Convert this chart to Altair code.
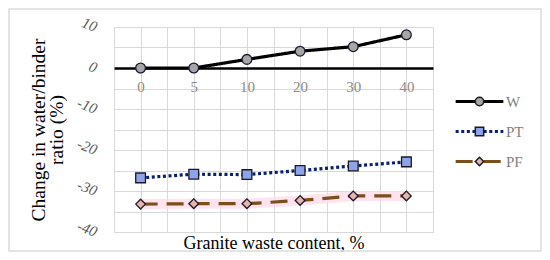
import json
import altair as alt
import pandas as pd

categories = ["0", "5", "10", "20", "30", "40"]
w_vals = [0, 0, 2.1, 4.1, 5.2, 8.1]
pt_vals = [-26.8, -25.9, -26.0, -25.0, -23.9, -22.9]
pf_vals = [-33.2, -33.1, -33.1, -32.3, -31.2, -31.2]
series_names = ["W", "PT", "PF"]
marker_keys = ["W ", "PT ", "PF "]

line_colors = ["#000000", "#0a1f6b", "#7B4F1C"]
line_dashes = [[1, 0], [3, 2.6], [17, 9]]
marker_shapes = ["circle", "square", "diamond"]
marker_fills = ["#a6a6a6", "#8ea4e6", "#e8b4a8"]

rows = []
for name, key, vals in zip(series_names, marker_keys, [w_vals, pt_vals, pf_vals]):
    for i, (c, v) in enumerate(zip(categories, vals)):
        rows.append({"series": name, "s": key, "idx": i, "cat": c, "value": v})
df = pd.DataFrame(rows)

FONT = "Liberation Serif"
GRID = "#d9d9d9"

xscale = alt.Scale(domain=[-0.5, 5.5], nice=False, zero=False)
yscale = alt.Scale(domain=[-40, 10], nice=False, zero=False)

y_axis = alt.Axis(
    values=list(range(-40, 11, 5)),
    labelExpr="datum.value % 10 == 0 ? datum.value : ''",
    grid=True, gridColor=GRID, domain=False, ticks=False,
    labelAngle=22, labelFontStyle="italic", labelFont=FONT, labelFontSize=15,
    labelColor="#595959", labelPadding=18,
    title=["Change in water/binder", "ratio (%)"], titleFont=FONT,
    titleFontSize=19.5, titleFontWeight="normal", titleColor="#000000",
    titlePadding=8, titleLineHeight=18,
)

grid_vals = [i / 2 for i in range(-1, 12)]
x_grid_axis = alt.Axis(
    orient="bottom", values=grid_vals, grid=True, gridColor=GRID,
    labels=False, ticks=False, domain=False,
    title="Granite waste content, %", titleFont=FONT, titleFontSize=18,
    titleFontWeight="normal", titleColor="#000000", titlePadding=2,
)

label_expr = "datum.value % 1 == 0 ? " + json.dumps(categories) + "[datum.value] : ''"
x_label_axis = alt.Axis(
    orient="bottom", offset=-164, values=list(range(len(categories))),
    grid=False, ticks=False, domain=True, domainColor="#000000", domainWidth=2.5,
    labelExpr=label_expr, labelFont=FONT, labelFontSize=15, labelColor="#8a8a8a",
    labelPadding=11, title=None,
)

leg_common = dict(title=None, orient="none", legendX=358, legendY=67,
                  symbolSize=70, labelFont=FONT, labelFontSize=15,
                  rowPadding=14, padding=0, labelOffset=19)

legend_lines = alt.Legend(symbolType="M-5.7,0H-1M1,0H5.7", symbolStrokeWidth=3,
                          labelColor="#7f7f7f", **leg_common)
legend_marks = alt.Legend(labelOpacity=0, **leg_common)

base = alt.Chart(df)

glow = base.transform_filter("datum.series == 'PF'").mark_line(
    color="#ffd9ea", strokeWidth=10, opacity=0.75
).encode(
    x=alt.X("idx:Q", scale=xscale, axis=x_grid_axis),
    y=alt.Y("value:Q", scale=yscale, axis=y_axis),
)

lines = base.mark_line(strokeWidth=3.2).encode(
    x=alt.X("idx:Q", scale=xscale, axis=x_label_axis),
    y=alt.Y("value:Q", scale=yscale, axis=y_axis),
    stroke=alt.Stroke("series:N", scale=alt.Scale(domain=series_names, range=line_colors), legend=legend_lines),
    strokeDash=alt.StrokeDash("series:N", scale=alt.Scale(domain=series_names, range=line_dashes), legend=legend_lines),
    detail="series:N",
)

points = base.mark_point(filled=True, stroke="#1a1a2e", strokeWidth=1.3, opacity=1, size=95).encode(
    x=alt.X("idx:Q", scale=xscale, axis=None),
    y=alt.Y("value:Q", scale=yscale, axis=y_axis),
    shape=alt.Shape("s:N", scale=alt.Scale(domain=marker_keys, range=marker_shapes), legend=legend_marks),
    fill=alt.Fill("s:N", scale=alt.Scale(domain=marker_keys, range=marker_fills), legend=legend_marks),
)

frame = alt.Chart(pd.DataFrame({"a": [0]})).mark_rect(
    fill="transparent", stroke="#dcdcdc", strokeWidth=1.5
).encode(
    x=alt.value(-105), x2=alt.value(427), y=alt.value(-18), y2=alt.value(224)
)

chart = alt.layer(frame, glow, lines, points).resolve_axis(x="independent").properties(
    width=319, height=205,
    padding={"left": 106, "top": 19, "right": 109, "bottom": 20},
    autosize=alt.AutoSizeParams(type="none"),
).configure_view(stroke=GRID, strokeWidth=1).configure(background="white")

chart.save("out.html", embed_options={"renderer": "svg", "actions": False})
